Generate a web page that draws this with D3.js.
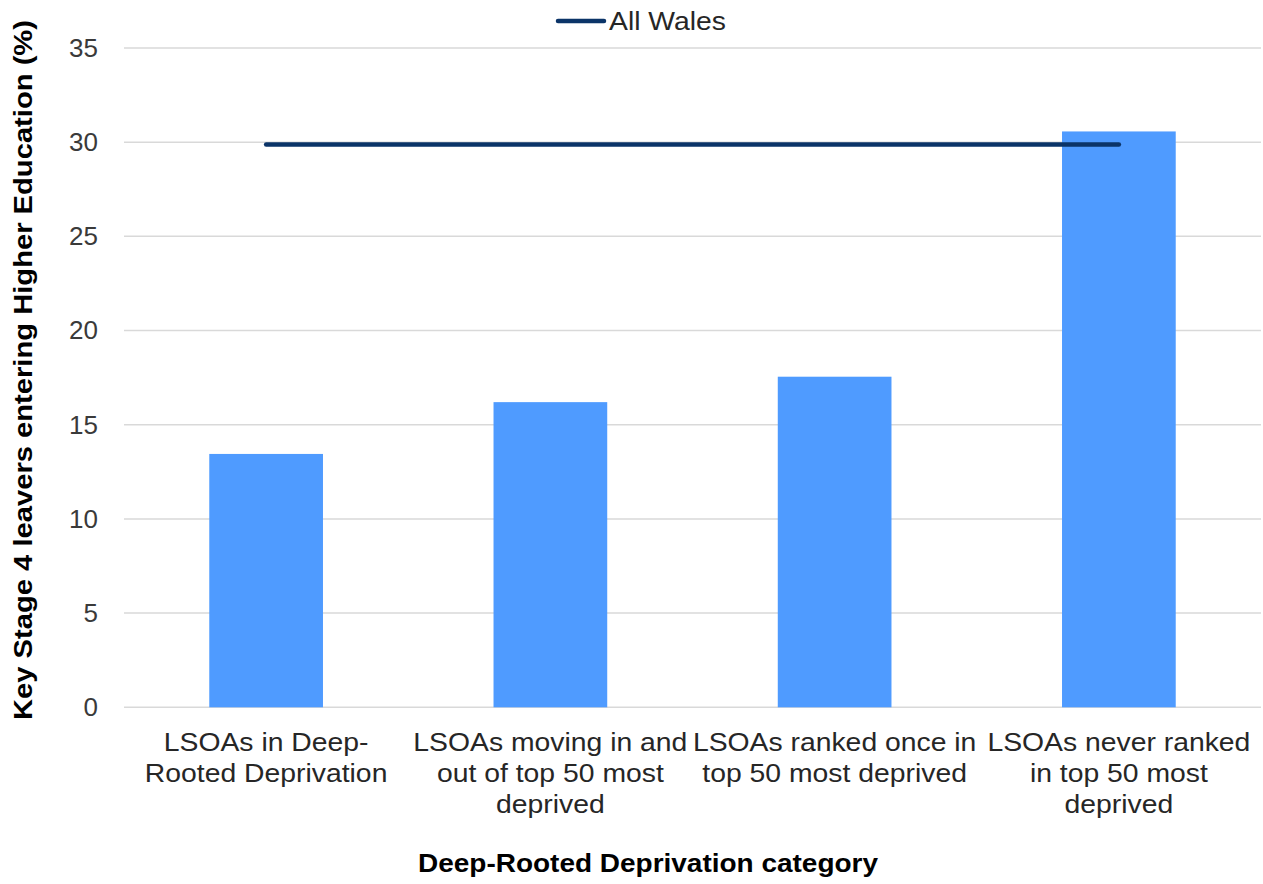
<!DOCTYPE html>
<html>
<head>
<meta charset="utf-8">
<script src="https://cdn.jsdelivr.net/npm/d3@7/dist/d3.min.js"></script>
<style>
  html, body { margin: 0; padding: 0; background: #fff; }
  svg { display: block; font-family: "Liberation Sans", Arial, sans-serif; }
</style>
</head>
<body>
<svg id="chart" width="1263" height="884"></svg>
<script>
// Deep-rooted deprivation categories (each label split into its wrapped lines)
const categories = [
  ["LSOAs in Deep-", "Rooted Deprivation"],
  ["LSOAs moving in and", "out of top 50 most", "deprived"],
  ["LSOAs ranked once in", "top 50 most deprived"],
  ["LSOAs never ranked", "in top 50 most", "deprived"]
];
// Key Stage 4 leavers entering Higher Education (%)
const values = [13.45, 16.2, 17.55, 30.57];
// All Wales average
const allWales = 29.88;
const yTicks = [0, 5, 10, 15, 20, 25, 30, 35];

const svg = d3.select("#chart");
const plotLeft = 124, plotRight = 1261, plotTop = 48, plotBottom = 707.3;
const textScaleX = 1.09;   // slightly wide lettering

const x = d3.scaleBand()
  .domain(d3.range(categories.length))
  .range([plotLeft, plotRight])
  .paddingInner(0.6)
  .paddingOuter(0.3);

const y = d3.scaleLinear().domain([0, 35]).range([plotBottom, plotTop]);

// gridlines
svg.append("g")
  .selectAll("line")
  .data(yTicks)
  .join("line")
  .attr("x1", plotLeft).attr("x2", plotRight)
  .attr("y1", d => y(d)).attr("y2", d => y(d))
  .attr("stroke", "#d9d9d9")
  .attr("stroke-width", 1.5);

// y axis tick labels
const yAxis = d3.axisLeft(y).tickValues(yTicks).tickSize(0).tickPadding(0);
const gy = svg.append("g").attr("transform", "translate(98,0)").call(yAxis);
gy.select(".domain").remove();
gy.selectAll("text")
  .attr("font-size", 26)
  .attr("fill", "#3a3a3a")
  .attr("font-family", "Liberation Sans, Arial, sans-serif");

// bars
svg.append("g")
  .selectAll("rect")
  .data(values)
  .join("rect")
  .attr("x", (d, i) => x(i))
  .attr("width", x.bandwidth())
  .attr("y", d => y(d))
  .attr("height", d => y(0) - y(d))
  .attr("fill", "#4f9bff");

// All Wales line from first to last category centre
const lineData = categories.map((c, i) => ({ i, v: allWales }));
svg.append("path")
  .datum([lineData[0], lineData[lineData.length - 1]])
  .attr("d", d3.line().x(d => x(d.i) + x.bandwidth() / 2).y(d => y(d.v)))
  .attr("fill", "none")
  .attr("stroke", "#0b3468")
  .attr("stroke-width", 4.5)
  .attr("stroke-linecap", "round");

// category labels
const catG = svg.append("g");
categories.forEach((lines, i) => {
  lines.forEach((ln, j) => {
    catG.append("text")
      .attr("transform", `translate(${x(i) + x.bandwidth() / 2},${751 + j * 31}) scale(${textScaleX},1)`)
      .attr("text-anchor", "middle")
      .attr("font-size", 26)
      .attr("fill", "#262626")
      .text(ln);
  });
});

// axis titles
svg.append("text")
  .attr("x", 648).attr("y", 872)
  .attr("text-anchor", "middle")
  .attr("font-size", 25)
  .attr("font-weight", "bold")
  .attr("fill", "#000")
  .attr("textLength", 460)
  .attr("lengthAdjust", "spacingAndGlyphs")
  .text("Deep-Rooted Deprivation category");

svg.append("text")
  .attr("transform", "translate(32,370) rotate(-90)")
  .attr("text-anchor", "middle")
  .attr("font-size", 25)
  .attr("font-weight", "bold")
  .attr("fill", "#000")
  .attr("textLength", 700)
  .attr("lengthAdjust", "spacingAndGlyphs")
  .text("Key Stage 4 leavers entering Higher Education (%)");

// legend
svg.append("line")
  .attr("x1", 558).attr("x2", 604)
  .attr("y1", 21).attr("y2", 21)
  .attr("stroke", "#0b3468")
  .attr("stroke-width", 4.5)
  .attr("stroke-linecap", "round");
svg.append("text")
  .attr("transform", `translate(609,30) scale(${textScaleX},1)`)
  .attr("font-size", 26)
  .attr("fill", "#262626")
  .text("All Wales");
</script>
</body>
</html>
